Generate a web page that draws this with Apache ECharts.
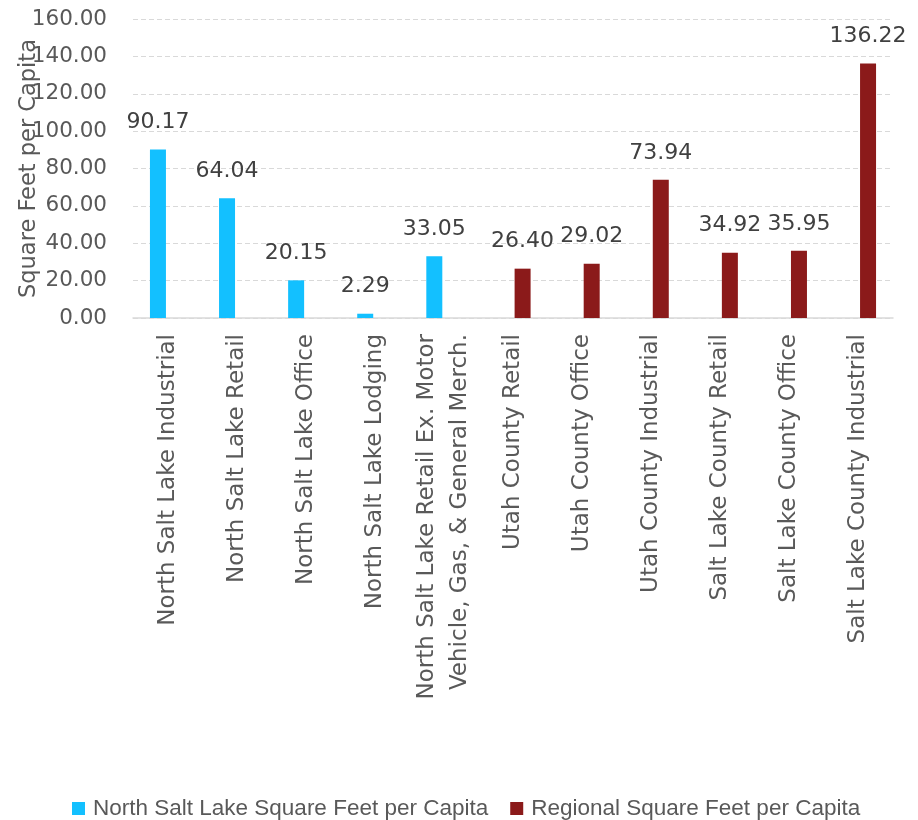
<!DOCTYPE html>
<html>
<head>
<meta charset="utf-8">
<script src="https://cdn.jsdelivr.net/npm/echarts@6/dist/echarts.min.js"></script>
<style>
  html, body { margin: 0; padding: 0; background: #fff; }
  #chart { width: 918px; height: 820px; }
</style>
</head>
<body>
<div id="chart"></div>
<script>
const categories = [
    'North Salt Lake Industrial',
    'North Salt Lake Retail',
    'North Salt Lake Office',
    'North Salt Lake Lodging',
    'North Salt Lake Retail Ex. Motor\nVehicle, Gas, & General Merch.',
    'Utah County Retail',
    'Utah County Office',
    'Utah County Industrial',
    'Salt Lake County Retail',
    'Salt Lake County Office',
    'Salt Lake County Industrial'
];
const northSaltLake = [90.17, 64.04, 20.15, 2.29, 33.05, null, null, null, null, null, null];
const regional = [null, null, null, null, null, 26.40, 29.02, 73.94, 34.92, 35.95, 136.22];

const chart = echarts.init(document.getElementById('chart'));

const labelStyle = {
    show: true,
    position: 'top',
    distance: 16,
    fontSize: 22,
    color: '#404040',
    fontFamily: 'DejaVu Sans',
    formatter: (p) => p.value.toFixed(2)
};

const option = {
    animation: false,
    grid: { left: 133, right: 25, top: 19, bottom: 502, containLabel: false, outerBoundsMode: 'none' },
    legend: {
        top: 792,
        left: 67,
        itemWidth: 13,
        itemHeight: 13,
        itemGap: 22,
        icon: 'rect',
        textStyle: { fontSize: 22.5, color: '#595959', fontFamily: 'Liberation Sans', padding: [0, 0, 0, 3] },
        data: ['North Salt Lake Square Feet per Capita', 'Regional Square Feet per Capita']
    },
    xAxis: {
        type: 'category',
        data: categories,
        axisTick: { show: false },
        axisLine: { lineStyle: { color: '#D9D9D9', width: 1.5 } },
        axisLabel: {
            rotate: 90,
            interval: 0,
            margin: 16,
            fontSize: 23,
            lineHeight: 33,
            color: '#595959',
            fontFamily: 'DejaVu Sans'
        }
    },
    yAxis: {
        type: 'value',
        min: 0,
        max: 160,
        interval: 20,
        name: 'Square Feet per Capita',
        nameLocation: 'middle',
        nameGap: 92,
        nameMoveOverlap: false,
        nameTextStyle: { fontSize: 22.5, color: '#595959', fontFamily: 'DejaVu Sans' },
        axisLabel: {
            margin: 26,
            fontSize: 21.5,
            color: '#595959',
            fontFamily: 'DejaVu Sans',
            formatter: (v) => v.toFixed(2)
        },
        splitLine: { lineStyle: { color: '#D9D9D9', type: [5, 3], width: 1.2 } }
    },
    series: [
        {
            name: 'North Salt Lake Square Feet per Capita',
            type: 'bar',
            data: northSaltLake,
            barWidth: 16,
            barGap: '20%',
            itemStyle: { color: '#13C0FF' },
            label: labelStyle
        },
        {
            name: 'Regional Square Feet per Capita',
            type: 'bar',
            data: regional,
            barWidth: 16,
            barGap: '20%',
            itemStyle: { color: '#8B1A1A' },
            label: labelStyle
        }
    ]
};

chart.setOption(option);
</script>
</body>
</html>
